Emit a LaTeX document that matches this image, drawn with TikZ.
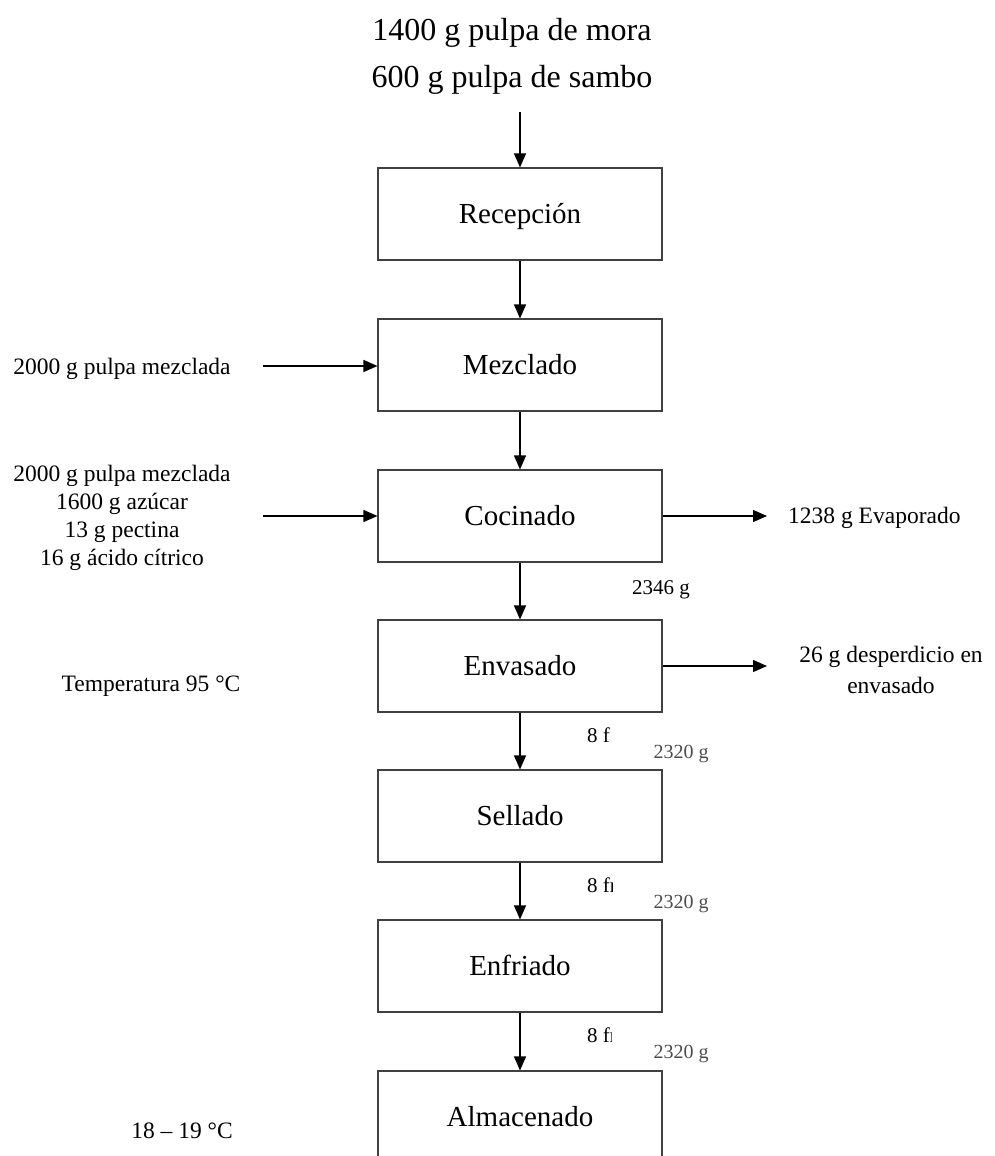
\documentclass[tikz,border=0pt]{standalone}
\usepackage{fontspec}
\setmainfont{Liberation Serif}
\usetikzlibrary{arrows.meta}
\begin{document}
\begin{tikzpicture}[x=1pt,y=-1pt,
  stepbox/.style={draw=black!75, line width=1.1pt, minimum width=284pt, minimum height=92pt, inner sep=0pt, text height=19pt, text depth=0pt, font=\fontsize{29}{34}\selectfont},
  flow/.style={line width=1.2pt, -{Triangle[length=14pt,width=12pt]}},
  lbl/.style={inner sep=0pt, font=\fontsize{23.5}{28}\selectfont, align=center},
  small/.style={inner sep=0pt, font=\fontsize{21}{25}\selectfont},
  blur/.style={inner sep=0pt, text=black!70, font=\fontsize{20}{24}\selectfont},
  big/.style={inner sep=0pt, font=\fontsize{32}{38}\selectfont}]
\useasboundingbox (0,0) rectangle (995,1156);
\clip (0,0) rectangle (995,1156);

% top inputs
\node[big] (in1) at (512,33) {1400 g pulpa de mora};
\node[big] (in2) at (512,80) {600 g pulpa de sambo};
\coordinate (top) at (520,112);

% process boxes
\node[stepbox] (rec) at (520,214) {Recepción};
\node[stepbox] (mez) at (520,365) {Mezclado};
\node[stepbox] (coc) at (520,516) {Cocinado};
\node[stepbox] (env) at (520,666) {Envasado};
\node[stepbox] (sel) at (520,816) {Sellado};
\node[stepbox] (enf) at (520,966) {Enfriado};
\node[stepbox] (alm) at (520,1117) {Almacenado};

% vertical flow
\draw[flow] (top) -- (rec.north);
\draw[flow] (rec) -- (mez);
\draw[flow] (mez) -- (coc);
\draw[flow] (coc) -- (env);
\draw[flow] (env) -- (sel);
\draw[flow] (sel) -- (enf);
\draw[flow] (enf) -- (alm);

% side inputs
\node[lbl] (mezin) at (122,369) {2000 g pulpa mezclada};
\coordinate (mezs) at (263,366);
\draw[flow] (mezs) -- (mez.west |- mezs);

\node[lbl] (cocin) at (122,518) {2000 g pulpa mezclada\\1600 g azúcar\\13 g pectina\\16 g ácido cítrico};
\coordinate (cocs) at (263,516);
\draw[flow] (cocs) -- (coc.west);

% outputs
\coordinate (coce) at (767,516);
\draw[flow] (coc.east) -- (coce);
\node[lbl, anchor=west] (evap) at (788,518) {1238 g Evaporado};

\coordinate (enve) at (767,666);
\draw[flow] (env.east) -- (enve);
\node[lbl, font=\fontsize{23.5}{31}\selectfont] (desp) at (891,670) {26 g desperdicio en\\envasado};

% conditions
\node[lbl] (temp) at (151,686) {Temperatura 95 °C};
\node[lbl] (alt) at (182,1131) {18 – 19 °C};

% masses
\node[small] (m1) at (661,590) {2346 g};
\node[blur] (m2) at (681,754) {2320 g};
\node[blur] (m3) at (681,904) {2320 g};
\node[blur] (m4) at (681,1054) {2320 g};

\begin{scope}
\clip (580,710) rectangle (609,760);
\node[small, anchor=west] (f1) at (587,735) {8 frascos};
\end{scope}
\begin{scope}
\clip (580,860) rectangle (612,910);
\node[small, anchor=west] (f2) at (587,885) {8 frascos};
\end{scope}
\begin{scope}
\clip (580,1010) rectangle (611,1060);
\node[small, anchor=west] (f3) at (587,1035) {8 frascos};
\end{scope}
\end{tikzpicture}
\end{document}
